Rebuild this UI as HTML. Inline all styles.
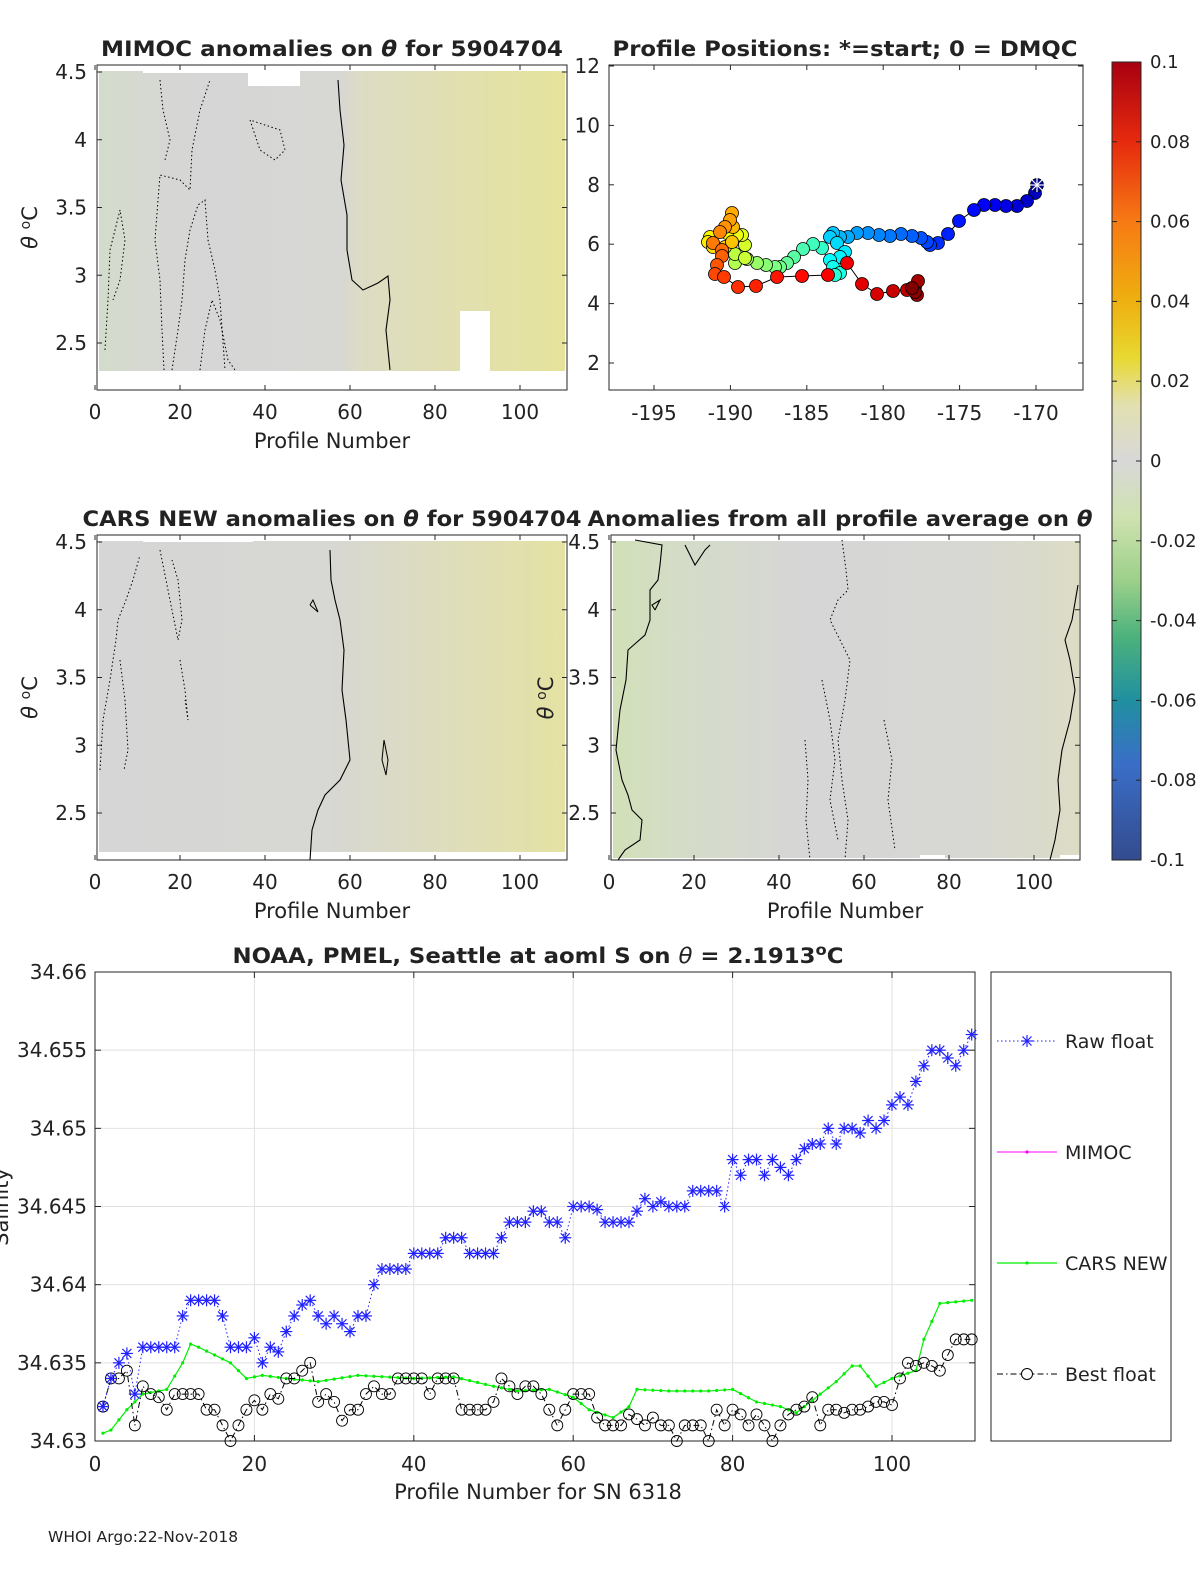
<!DOCTYPE html>
<html><head><meta charset="utf-8"><style>
html,body{margin:0;padding:0;background:#fff;overflow:hidden;width:1200px;height:1575px;}
svg{display:block;font-family:"DejaVu Sans","Liberation Sans",sans-serif;}
</style></head><body>
<svg id="s" width="1200" height="1575" viewBox="0 0 1200 1575" xmlns="http://www.w3.org/2000/svg">
<defs>
<linearGradient id="g1" x1="0" x2="1" y1="0" y2="0">
<stop offset="0" stop-color="#d3dccb"/><stop offset="0.1" stop-color="#d6d8d2"/><stop offset="0.2" stop-color="#d6d6d6"/><stop offset="0.52" stop-color="#d7d7d4"/><stop offset="0.56" stop-color="#dddcc4"/><stop offset="0.8" stop-color="#e2e0ad"/><stop offset="1" stop-color="#e5e39a"/></linearGradient>
<linearGradient id="g3" x1="0" x2="1" y1="0" y2="0">
<stop offset="0" stop-color="#d6d6d6"/><stop offset="0.5" stop-color="#d7d7d3"/><stop offset="0.7" stop-color="#dddcc0"/><stop offset="1" stop-color="#e4e2a2"/></linearGradient>
<linearGradient id="g4" x1="0" x2="1" y1="0" y2="0">
<stop offset="0" stop-color="#d2e0b8"/><stop offset="0.15" stop-color="#d4dcc8"/><stop offset="0.4" stop-color="#d6d6d6"/><stop offset="0.75" stop-color="#d7d7d4"/><stop offset="1" stop-color="#dcdcc6"/></linearGradient>
<linearGradient id="cb" x1="0" x2="0" y1="0" y2="1">
<stop offset="0" stop-color="#a80010"/><stop offset="0.1" stop-color="#e62a0e"/><stop offset="0.2" stop-color="#f77a14"/><stop offset="0.3" stop-color="#eeb010"/><stop offset="0.37" stop-color="#e8d830"/><stop offset="0.43" stop-color="#e2e0b0"/><stop offset="0.5" stop-color="#d8d8d8"/><stop offset="0.57" stop-color="#cfe2b0"/><stop offset="0.65" stop-color="#9cd08a"/><stop offset="0.72" stop-color="#4cb27c"/><stop offset="0.8" stop-color="#2090a0"/><stop offset="0.88" stop-color="#3a6ec8"/><stop offset="1" stop-color="#344b8e"/></linearGradient>
</defs>
<g id="root"></g>
</svg>
<script>
var R=document.getElementById('root'),h='';
function T(x,y,s,o){o=o||{};h+='<text x="'+x+'" y="'+y+'" font-size="'+(o.fs||20)+'" text-anchor="'+(o.a||'middle')+'"'+(o.fw?' font-weight="bold"':'')+(o.tl?' textLength="'+o.tl+'" lengthAdjust="spacingAndGlyphs"':'')+(o.tr?' transform="'+o.tr+'"':'')+' fill="#222">'+s+'</text>';}
function L(x1,y1,x2,y2,c,w,d){h+='<line x1="'+x1+'" y1="'+y1+'" x2="'+x2+'" y2="'+y2+'" stroke="'+(c||'#262626')+'" stroke-width="'+(w||1)+'"'+(d?' stroke-dasharray="'+d+'"':'')+'/>';}
function P(pts,c,w,d){h+='<polyline fill="none" points="'+pts+'" stroke="'+(c||'#000')+'" stroke-width="'+(w||1)+'"'+(d?' stroke-dasharray="'+d+'"':'')+'/>';}
function panel(x0,y0,x1,y1,fill,whites,contours,title,tl,ylab,xlab){
 h+='<rect x="'+(x0+2)+'" y="'+(y0+6)+'" width="'+(x1-x0-4)+'" height="'+(y1-y0-14)+'" fill="url(#'+fill+')"/>';
 whites.forEach(function(w){h+='<rect x="'+w[0]+'" y="'+w[1]+'" width="'+w[2]+'" height="'+w[3]+'" fill="#fff"/>';});
 contours.forEach(function(c){P(c[0],'#000',1.1,c[1]);});
 h+='<rect x="'+x0+'" y="'+y0+'" width="'+(x1-x0)+'" height="'+(y1-y0)+'" fill="none" stroke="#262626"/>';
 var xs=[0,20,40,60,80,100];xs.forEach(function(v){var x=x0-2+v*4.25;L(x,y1,x,y1-5);L(x,y0,x,y0+5);T(x,y1+29,v);});
 var ys=[4.5,4,3.5,3,2.5];ys.forEach(function(v){var y=y0+7+(4.5-v)*135.5;L(x0,y,x0+5,y);L(x1,y,x1-5,y);T(x0-10,y+7,v,{a:'end'});});
 if(xlab)T((x0+x1)/2,y1+58,'Profile Number',{fs:21});
 if(ylab)T(0,0,'<tspan font-style="italic">θ</tspan> <tspan dy="-7" font-size="14">o</tspan><tspan dy="7">C</tspan>',{fs:21,tr:'translate('+(x0-60)+','+((y0+y1)/2)+') rotate(-90)'});
 T((x0+x1)/2,y0-9,title,{fw:1,fs:21,tl:tl});
}
panel(97,65,567,390,'g1',[[143,71,110,2],[248,71,52,15],[460,311,30,75],[98,371,470,20],[404,371,50,8]],[
 ['338,80 340,110 344,145 341,180 347,215 347,250 352,280 363,290 378,283 388,276 390,300 386,330 390,370','']],
 'MIMOC anomalies on <tspan font-style="italic">θ</tspan>  for 5904704',462,1,1);
P('164,370 162,330 160,280 155,240 158,200 160,175 180,180 190,190 192,150 200,110 210,80','#000',1,'1.5,2.5');
P('172,370 178,330 182,300 185,260 190,230 198,205 205,200 208,240 215,270 220,300 225,370','#000',1,'1.5,2.5');
P('105,350 108,300 110,250 120,210 125,240 120,280 113,300','#000',1,'1.5,2.5');
P('250,120 260,150 275,160 285,150 280,130 265,125 250,120','#000',1,'1.5,2.5');
P('200,370 205,330 212,300 220,320 228,360 235,370','#000',1,'1.5,2.5');
P('160,80 163,110 170,140 165,160','#000',1,'1.5,2.5');
panel(97,535,567,860,'g3',[[143,537,110,5],[404,856,28,6],[540,856,27,6]],[
 ['330,550 331,580 335,600 340,620 344,650 342,690 346,720 350,760 340,780 325,795 318,810 312,830 310,860','']],
 'CARS NEW anomalies on <tspan font-style="italic">θ</tspan> for 5904704',499,1,1);
P('100,770 103,720 110,680 116,640 118,620 126,600 133,580 140,555','#000',1,'1.5,2.5');
P('160,550 170,600 178,640 182,620 178,580 172,560','#000',1,'1.5,2.5');
P('120,660 125,700 128,750 124,770','#000',1,'1.5,2.5');
P('180,660 185,690 188,720 185,700','#000',1,'1.5,2.5');
P('384,740 388,760 386,775 382,760 384,740','#000',1,'');
P('310,605 318,612 313,600 310,605','#000',1,'');
h+='<rect x="613" y="541" width="466" height="317" fill="url(#g4)"/><rect x="920" y="855" width="25" height="5" fill="#fff"/><rect x="1060" y="855" width="20" height="5" fill="#fff"/>';
P('635,540 662,545 660,565 658,580 650,590 650,620 645,635 628,650 626,680 620,710 616,750 622,780 628,795 632,810 642,820 640,840 625,850 618,860','#000',1.1);
P('1078,585 1072,620 1065,640 1070,660 1075,690 1070,720 1062,750 1058,780 1060,810 1055,840 1050,860','#000',1.1);
P('685,545 695,565 705,550 710,545','#000',1.1);
P('655,610 660,600 652,605 655,610','#000',1.1);
P('842,540 846,570 848,590 838,600 830,620 840,640 850,660 845,700 838,740 842,780 848,820 845,860','#000',1,'1.5,2.5');
P('822,680 830,720 835,760 830,800 838,840','#000',1,'1.5,2.5');
P('884,720 892,760 888,800 895,850','#000',1,'1.5,2.5');
P('805,740 808,780 806,820 810,860','#000',1,'1.5,2.5');
h+='<rect x="611" y="535" width="469" height="325" fill="none" stroke="#262626"/>';
[0,20,40,60,80,100].forEach(function(v){var x=609+v*4.25;L(x,860,x,855);L(x,535,x,540);T(x,889,v);});
[4.5,4,3.5,3,2.5].forEach(function(v){var y=542+(4.5-v)*135.5;L(611,y,616,y);L(1080,y,1075,y);T(600,y+7,v,{a:'end'});});
T(845,918,'Profile Number',{fs:21});
T(0,0,'<tspan font-style="italic">θ</tspan> <tspan dy="-7" font-size="14">o</tspan><tspan dy="7">C</tspan>',{fs:21,tr:'translate(553,698) rotate(-90)'});
T(840,526,'Anomalies from all profile average on <tspan font-style="italic">θ</tspan>',{fw:1,fs:21,tl:505});
h+='<rect x="609" y="65" width="474" height="325" fill="#fff" stroke="#262626"/>';
[-195,-190,-185,-180,-175,-170].forEach(function(v){var x=654+(v+195)*15.28;L(x,390,x,385);L(x,65,x,70);T(x,420,v);});
[12,10,8,6,4,2].forEach(function(v){var y=66+(12-v)*29.7;L(609,y,614,y);L(1083,y,1078,y);T(600,y+7,v,{a:'end'});});
T(845,56,'Profile Positions: *=start; 0 = DMQC',{fw:1,fs:21,tl:465});
var tr=[[1035,193],[1027,201],[1017,206],[1006,206],[995,205],[984,205],[974,210],[959,221],[948,234],[938,243],[930,245],[927,242],[921,238],[912,236],[901,234],[890,236],[879,235],[868,233],[857,233],[848,237],[840,237],[833,233],[830,237],[837,243],[845,252],[840,257],[830,260],[833,267],[840,273],[835,275],[822,248],[813,244],[803,249],[794,257],[787,263],[780,267],[775,267],[766,265],[757,263],[747,259],[735,263],[735,254],[745,258],[745,245],[742,235],[737,235],[727,233],[710,237],[708,242],[713,247],[725,247],[732,242],[733,227],[732,213],[730,220],[725,227],[720,232],[713,243],[722,250],[722,256],[717,265],[715,274],[724,277],[738,287],[756,286],[777,277],[802,276],[828,275],[847,263],[862,284],[877,294],[893,291],[907,290],[915,287],[918,281],[917,295],[915,292],[912,288]];
P('1037,185 '+tr.map(function(p){return p.join(',')}).join(' '),'#000',1);
function jet(t){var r=Math.min(1,Math.max(0,1.5-Math.abs(4*t-3))),g=Math.min(1,Math.max(0,1.5-Math.abs(4*t-2))),b=Math.min(1,Math.max(0,1.5-Math.abs(4*t-1)));return 'rgb('+Math.round(r*255)+','+Math.round(g*255)+','+Math.round(b*255)+')';}
var n=tr.length;
for(var i=0;i<n;i++){h+='<circle cx="'+tr[i][0]+'" cy="'+tr[i][1]+'" r="6.5" fill="'+jet(0.06+0.94*i/(n-1))+'" stroke="#000" stroke-width="0.8"/>';}
h+='<circle cx="1037" cy="185" r="6.5" fill="#00008f" stroke="#000" stroke-width="0.8"/>';
L(1030,185,1044,185,'#fff',1.2);L(1037,178,1037,192,'#fff',1.2);L(1032,180,1042,190,'#fff',1.2);L(1032,190,1042,180,'#fff',1.2);
h+='<rect x="1112" y="62" width="29" height="798" fill="url(#cb)" stroke="#262626"/>';
[[0.1,'0.1'],[0.08,'0.08'],[0.06,'0.06'],[0.04,'0.04'],[0.02,'0.02'],[0,'0'],[-0.02,'-0.02'],[-0.04,'-0.04'],[-0.06,'-0.06'],[-0.08,'-0.08'],[-0.1,'-0.1']].forEach(function(v){var y=62+(0.1-v[0])*3990;L(1136,y,1141,y);L(1112,y,1117,y);T(1150,y+6,v[1],{a:'start',fs:18});});
var X0=95,Y0=972,X1=975,Y1=1441;
function px(k){return X0+7.97*k;} function py(v){return Y1-(v-34.63)*15633;}
h+='<rect x="'+X0+'" y="'+Y0+'" width="'+(X1-X0)+'" height="'+(Y1-Y0)+'" fill="#fff"/>';
[20,40,60,80,100].forEach(function(v){L(px(v),Y0,px(v),Y1,'#e2e2e2');});
[34.635,34.64,34.645,34.65,34.655].forEach(function(v){L(X0,py(v),X1,py(v),'#e2e2e2');});
h+='<rect x="'+X0+'" y="'+Y0+'" width="'+(X1-X0)+'" height="'+(Y1-Y0)+'" fill="none" stroke="#262626"/>';
[0,20,40,60,80,100].forEach(function(v){L(px(v),Y1,px(v),Y1-6);L(px(v),Y0,px(v),Y0+6);T(px(v),Y1+30,v);});
[[34.63,'34.63'],[34.635,'34.635'],[34.64,'34.64'],[34.645,'34.645'],[34.65,'34.65'],[34.655,'34.655'],[34.66,'34.66']].forEach(function(v){L(X0,py(v[0]),X0+6,py(v[0]));L(X1,py(v[0]),X1-6,py(v[0]));T(X0-8,py(v[0])+7,v[1],{a:'end'});});
T(538,1499,'Profile Number for SN 6318',{fs:21});
T(0,0,'Salinity',{fs:21,tr:'translate(8,1207) rotate(-90)'});
T(538,963,'NOAA, PMEL, Seattle at aoml S on <tspan font-style="italic" font-weight="normal">θ</tspan> = 2.1913<tspan dy="-8" font-size="15">o</tspan><tspan dy="8">C</tspan>',{fw:1,fs:21,tl:611});
T(48,1542,'WHOI Argo:22-Nov-2018',{a:'start',fs:15.5});
var raw=[34.6322,34.634,34.635,34.6356,34.633,34.636,34.636,34.636,34.636,34.636,34.638,34.639,34.639,34.639,34.639,34.638,34.636,34.636,34.636,34.6366,34.635,34.636,34.6357,34.637,34.638,34.6387,34.639,34.638,34.6375,34.638,34.6375,34.637,34.638,34.638,34.64,34.641,34.641,34.641,34.641,34.642,34.642,34.642,34.642,34.643,34.643,34.643,34.642,34.642,34.642,34.642,34.643,34.644,34.644,34.644,34.6447,34.6447,34.644,34.644,34.643,34.645,34.645,34.645,34.6448,34.644,34.644,34.644,34.644,34.6447,34.6455,34.645,34.6453,34.645,34.645,34.645,34.646,34.646,34.646,34.646,34.645,34.648,34.647,34.648,34.648,34.647,34.648,34.6475,34.647,34.648,34.6487,34.649,34.649,34.65,34.649,34.65,34.65,34.6497,34.6505,34.65,34.6505,34.6515,34.652,34.6515,34.653,34.654,34.655,34.655,34.6545,34.654,34.655,34.656];
var best=[34.6322,34.634,34.634,34.6345,34.631,34.6335,34.633,34.6328,34.632,34.633,34.633,34.633,34.633,34.632,34.632,34.631,34.630,34.631,34.632,34.6326,34.632,34.633,34.6327,34.634,34.634,34.6345,34.635,34.6325,34.633,34.6325,34.6313,34.632,34.632,34.633,34.6335,34.633,34.633,34.634,34.634,34.634,34.634,34.633,34.634,34.634,34.634,34.632,34.632,34.632,34.632,34.6325,34.634,34.6335,34.633,34.6335,34.6335,34.633,34.632,34.631,34.632,34.633,34.633,34.633,34.6315,34.631,34.631,34.631,34.6317,34.6314,34.631,34.6315,34.631,34.631,34.630,34.631,34.631,34.631,34.630,34.632,34.631,34.632,34.6317,34.631,34.6317,34.631,34.630,34.631,34.6317,34.632,34.6322,34.6328,34.631,34.632,34.632,34.6318,34.632,34.632,34.6322,34.6325,34.6325,34.6323,34.634,34.635,34.6348,34.635,34.6348,34.6345,34.6355,34.6365,34.6365,34.6365];
var gk=[[1,34.6305],[2,34.6307],[4,34.632],[6,34.633],[9,34.6333],[11,34.635],[12,34.6362],[13,34.636],[15,34.6355],[17,34.635],[19,34.634],[21,34.6342],[24,34.634],[28,34.6338],[33,34.6342],[40,34.634],[45,34.6341],[50,34.6335],[53,34.6332],[57,34.6333],[60,34.6328],[62,34.632],[65,34.6315],[67,34.6322],[68,34.6333],[72,34.6332],[77,34.6332],[80,34.6333],[83,34.6325],[86,34.6322],[88,34.6318],[91,34.633],[93,34.6338],[95,34.6348],[96,34.6348],[98,34.6335],[100,34.634],[103,34.6345],[104,34.6365],[106,34.6388],[110,34.639]];
var g=[];for(var k=1;k<=110;k++){for(var j=0;j<gk.length-1;j++){if(k>=gk[j][0]&&k<=gk[j+1][0]){var t=(k-gk[j][0])/(gk[j+1][0]-gk[j][0]);g.push(gk[j][1]+t*(gk[j+1][1]-gk[j][1]));break;}}}
P(g.map(function(v,i){return px(i+1)+','+py(v)}).join(' '),'#00ee00',1.2);
g.forEach(function(v,i){h+='<circle cx="'+px(i+1)+'" cy="'+py(v)+'" r="1.6" fill="#00ee00"/>';});
P(best.map(function(v,i){return px(i+1)+','+py(v)}).join(' '),'#000',1,'6,3,1.5,3');
best.forEach(function(v,i){h+='<circle cx="'+px(i+1)+'" cy="'+py(v)+'" r="5.5" fill="none" stroke="#000" stroke-width="0.9"/>';});
P(raw.map(function(v,i){return px(i+1)+','+py(v)}).join(' '),'#2020ff',1,'1.5,2.5');
function star(x,y,c){L(x-6,y,x+6,y,c,1.2);L(x,y-6,x,y+6,c,1.2);L(x-4.5,y-4.5,x+4.5,y+4.5,c,1.2);L(x-4.5,y+4.5,x+4.5,y-4.5,c,1.2);}
raw.forEach(function(v,i){star(px(i+1),py(v),'#2020ff');});
h+='<rect x="991" y="972" width="180" height="469" fill="#fff" stroke="#262626"/>';
L(997,1041,1057,1041,'#2020ff',1,'1.5,2.5');star(1027,1041,'#2020ff');T(1065,1048,'Raw float',{a:'start',fs:19});
L(997,1152,1057,1152,'#ff00ff',1);h+='<circle cx="1027" cy="1152" r="1.6" fill="#ff00ff"/>';T(1065,1159,'MIMOC',{a:'start',fs:19});
L(997,1263,1057,1263,'#00ee00',1.2);h+='<circle cx="1027" cy="1263" r="1.6" fill="#00ee00"/>';T(1065,1270,'CARS NEW',{a:'start',fs:19});
L(997,1374,1057,1374,'#000',1,'6,3,1.5,3');h+='<circle cx="1027" cy="1374" r="5.5" fill="#fff" stroke="#000"/>';T(1065,1381,'Best float',{a:'start',fs:19});
R.innerHTML=h;
</script>
</body></html>
